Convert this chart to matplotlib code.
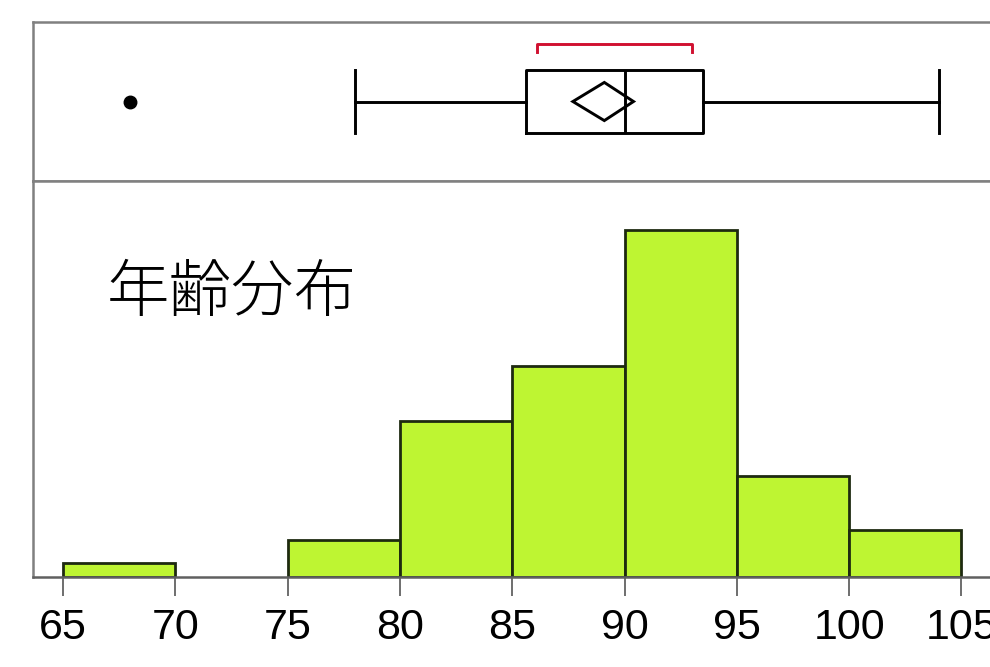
import numpy as np
import matplotlib.pyplot as plt
from matplotlib.patches import Polygon

# 年齢分布のヒストグラム (5歳刻み)
bin_edges = [65, 70, 75, 80, 85, 90, 95, 100, 105]
bin_values = [1.5, 0, 4.0, 17.1, 23.1, 37.9, 11.1, 5.1]
tick_labels = ['65', '70', '75', '80', '85', '90', '95', '100', '105']

# 箱ひげ図の要約統計量
whisker_low = 78.0
q1 = 85.6
median = 90.0
q3 = 93.5
whisker_high = 104.0
outliers = [68.0]
mean = 89.1
mean_ci = [87.7, 90.4]
shortest_half = [86.1, 93.0]

title = '年齢分布'

fig = plt.figure(figsize=(9.9, 6.67), dpi=100)
ax_box = fig.add_axes([0.0333, 0.7286, 0.99, 0.2384])
ax_hist = fig.add_axes([0.0333, 0.1349, 0.99, 0.5937], sharex=ax_box)

xmin, xmax = 63.66, 107.3
ax_hist.set_xlim(xmin, xmax)

# ヒストグラム
left = np.array(bin_edges[:-1])
vals = np.array(bin_values)
keep = vals > 0
ax_hist.bar(left[keep], vals[keep], width=5, align='edge',
            color='#bef532', edgecolor='#1e2a10', linewidth=2.0)
ax_hist.set_ylim(0, 43.3)
ax_hist.set_yticks([])
ax_hist.set_xticks(bin_edges)
ax_hist.set_xticklabels(tick_labels, fontsize=31, family='Liberation Sans')
ax_hist.tick_params(axis='x', length=14, width=1.2, color='#555555', pad=8)
ax_hist.text(66.95, 31.0, title, fontsize=45, va='center', ha='left',
             family=['Noto Sans CJK JP', 'DejaVu Sans'], fontweight='light')

for side, sp in ax_hist.spines.items():
    sp.set_color('#808080')
    sp.set_linewidth(1.8)
ax_hist.spines['bottom'].set_color('#606060')

# 箱ひげ図
stats = [{
    'whislo': whisker_low, 'q1': q1, 'med': median, 'q3': q3,
    'whishi': whisker_high, 'fliers': outliers, 'mean': mean,
}]
lw = 2.1
ax_box.bxp(stats, positions=[0.5], widths=0.4, vert=False, showmeans=False,
           boxprops=dict(color='black', linewidth=lw),
           medianprops=dict(color='black', linewidth=lw),
           whiskerprops=dict(color='black', linewidth=lw),
           capprops=dict(color='black', linewidth=lw),
           capwidths=0.4,
           flierprops=dict(marker='o', markerfacecolor='black',
                           markeredgecolor='black', markersize=9))

# 平均値のひし形 (信頼区間)
diamond = Polygon([[mean_ci[0], 0.5], [mean, 0.62], [mean_ci[1], 0.5], [mean, 0.38]],
                  closed=True, fill=False, edgecolor='black', linewidth=lw)
ax_box.add_patch(diamond)

# 最短半分区間
ax_box.plot([shortest_half[0], shortest_half[0], shortest_half[1], shortest_half[1]],
            [0.81, 0.86, 0.86, 0.81], color='#d01030', linewidth=lw)

ax_box.set_ylim(0, 1)
ax_box.set_yticks([])
ax_box.tick_params(axis='x', bottom=False, labelbottom=False)
for sp in ax_box.spines.values():
    sp.set_color('#808080')
    sp.set_linewidth(1.8)

fig.savefig('out.png', dpi=100)
